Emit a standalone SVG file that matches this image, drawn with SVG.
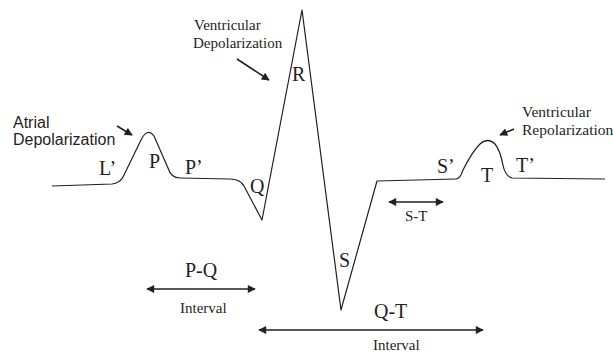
<svg xmlns="http://www.w3.org/2000/svg" width="613" height="354" viewBox="0 0 613 354">
<defs>
<marker id="ah" viewBox="0 0 10 10" refX="9" refY="5" markerWidth="10" markerHeight="8" markerUnits="userSpaceOnUse" orient="auto-start-reverse">
<path d="M0,0 L10,5 L0,10 z" fill="#231f20"/>
</marker>
</defs>
<style>
.w{fill:none;stroke:#231f20;stroke-width:1.2;stroke-linejoin:round}
.c{fill:none;stroke:#231f20;stroke-width:1.6}
.s{font-family:"Liberation Sans",Arial,sans-serif;font-size:16px;fill:#231f20}
.t{font-family:"Liberation Serif","Times New Roman",serif;font-size:15px;fill:#231f20}
.L{font-family:"Liberation Serif","Times New Roman",serif;font-size:20px;fill:#231f20}
</style>
<rect width="613" height="354" fill="#fff"/>
<g id="waveform">
<path class="w" d="M52,186 L112,184 Q120,183 123,177 L142,138 Q148,128 154,136 L168,168 Q171,178 180,178 L230,179 Q240,179 244,186 L262,220 L302,10 L341,310 L377,181 L456,179 Q460,179 463,170 Q472,152 480,144 Q488,137 495,144 Q500,150 503,165 Q505,176 512,178 L605,179"/>
</g>
<g id="wave-labels">
<text class="L" x="99" y="175">L’</text>
<text class="L" x="149" y="168">P</text>
<text class="L" x="185" y="174">P’</text>
<text class="L" x="250" y="193">Q</text>
<text class="L" x="292" y="81">R</text>
<text class="L" x="339" y="267">S</text>
<text class="L" x="437" y="173">S’</text>
<text class="L" x="481" y="182">T</text>
<text class="L" x="516" y="172">T’</text>
</g>
<g id="atrial-depolarization">
<text class="s" x="13" y="128">Atrial</text>
<text class="s" x="13" y="145">Depolarization</text>
</g>
<g id="ventricular-depolarization">
<text class="t" x="194" y="30">Ventricular</text>
<text class="t" x="193" y="48">Depolarization</text>
</g>
<g id="ventricular-repolarization">
<text class="t" x="522" y="117" style="font-size:15.5px">Ventricular</text>
<text class="t" x="522" y="135" style="font-size:15.5px">Repolarization</text>
</g>
<g id="pq-interval">
<text class="L" x="185" y="277">P-Q</text>
<text class="t" x="180" y="313">Interval</text>
</g>
<g id="st-segment">
<text class="t" x="405" y="221">S-T</text>
</g>
<g id="qt-interval">
<text class="L" x="374" y="318">Q-T</text>
<text class="t" x="373" y="350">Interval</text>
</g>
<g id="connectors">
<line class="c" x1="117" y1="126" x2="132" y2="135" marker-end="url(#ah)"/>
<line class="c" x1="237" y1="59" x2="269" y2="80" marker-end="url(#ah)"/>
<line class="c" x1="514" y1="129" x2="500" y2="135" marker-end="url(#ah)"/>
<line class="c" x1="147" y1="289" x2="255" y2="289" marker-start="url(#ah)" marker-end="url(#ah)"/>
<line class="c" x1="389" y1="202" x2="443" y2="202" marker-start="url(#ah)" marker-end="url(#ah)"/>
<line class="c" x1="259" y1="330" x2="483" y2="330" marker-start="url(#ah)" marker-end="url(#ah)"/>
</g>
</svg>
